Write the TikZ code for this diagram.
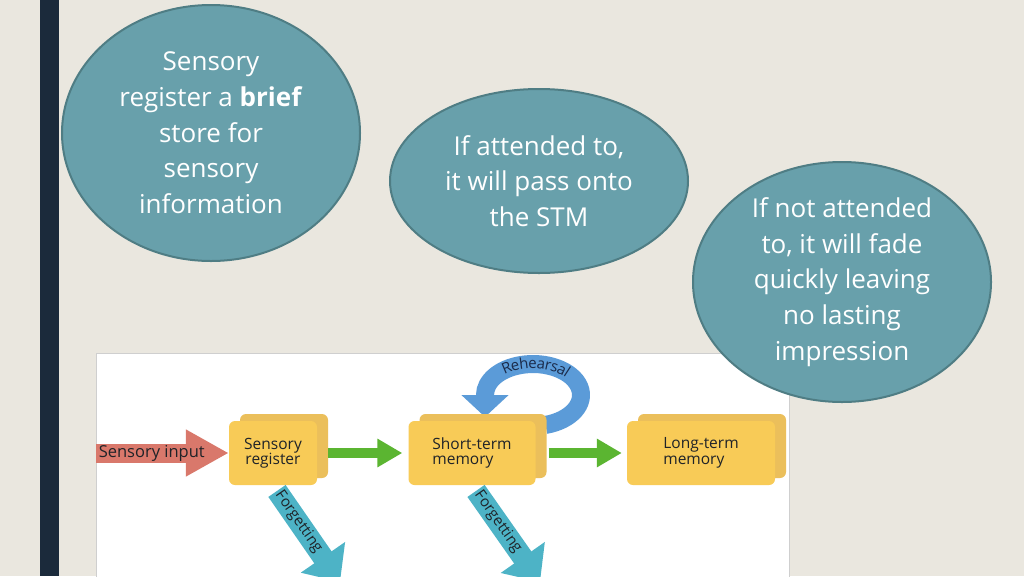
\documentclass[tikz,border=0pt]{standalone}
\usepackage{fontspec}
\setmainfont{Open Sans}
\usetikzlibrary{arrows.meta,shapes.geometric,shadows,decorations.text,calc}

\definecolor{slidebg}{HTML}{EAE7DF}
\definecolor{sidebar}{HTML}{1B2A3B}
\definecolor{bubblefill}{HTML}{68A0AB}
\definecolor{bubbleline}{HTML}{4F7D84}
\definecolor{panelline}{HTML}{CFCFCF}
\definecolor{boxfront}{HTML}{F8CB57}
\definecolor{boxback}{HTML}{EBBF5B}
\definecolor{inputred}{HTML}{D9786B}
\definecolor{passgreen}{HTML}{5BB531}
\definecolor{loopblue}{HTML}{5B9BD8}
\definecolor{forgetblue}{HTML}{4DB3C6}
\definecolor{labeltext}{HTML}{1F2328}
\definecolor{looptext}{HTML}{1B2B4A}

\begin{document}
\begin{tikzpicture}[x=1pt, y=-1pt,
    bubble/.style={ellipse, draw=bubbleline, line width=2pt, fill=bubblefill,
        text=white, align=center, inner sep=0pt,
        font=\fontsize{26}{35.7}\selectfont},
    memory/.style={rectangle, rounded corners=6pt, fill=boxfront, text=labeltext,
        minimum height=64pt, inner sep=0pt, font=\fontsize{15.5}{15.5}\selectfont,
        copy shadow={shadow xshift=11pt, shadow yshift=7pt, fill=boxback, draw=none}},
    input/.style={line width=19pt, inputred, -{Triangle[width=44pt,length=43pt]}},
    pass/.style={line width=10pt, passgreen, -{Triangle[width=27pt,length=25pt]}},
    rehearse/.style={line width=18pt, loopblue, -{Triangle[width=46pt,length=22pt]}},
    forget/.style={line width=21pt, forgetblue, -{Triangle[width=52pt,length=30pt]}}]

    \path[use as bounding box, fill=slidebg] (0,0) rectangle (1024,576);
    \fill[sidebar] (40,0) rectangle (59,576);

    \node[bubble, minimum width=298pt, minimum height=256pt] (reg) at (211,133)
        {Sensory\\register a \textbf{brief}\\store for\\sensory\\information};
    \node[bubble, minimum width=298pt, minimum height=184pt] (att) at (539,181)
        {If attended to,\\it will pass onto\\the STM};

    \node[draw=panelline, line width=1pt, fill=white, anchor=north west, inner sep=0pt,
        minimum width=693pt, minimum height=224pt] (panel) at (96,353) {};

    \coordinate (rc) at (533,395);
    \draw[rehearse] ($(rc)+(75:48 and 31)$) arc[start angle=75, end angle=-180, x radius=48, y radius=31] -- ++(0,22);
    \path[decorate, decoration={text along path, text align=center, raise=-4.5pt,
        text={|\fontsize{15}{15}\selectfont\color{looptext}|Rehearsal}}]
        ($(rc)+(-150:48 and 31)$) arc[start angle=-150, end angle=-20, x radius=48, y radius=31];

    \node[memory, minimum width=88pt, align=center] (sr) at (273,453) {Sensory\\register};
    \node[memory, minimum width=127pt, align=left] (stm) at (472,453) {Short-term\\memory};
    \node[memory, minimum width=148pt, align=left] (ltm) at (701,453) {Long-term\\memory};

    \coordinate (inl) at (96,453);
    \draw[input] (inl) -- (sr.west)
        node[pos=0.42, text=labeltext, font=\fontsize{16.5}{16.5}\selectfont] {Sensory input};

    \draw[pass, shorten <=11pt, shorten >=6pt] (sr.east) -- (stm.west);
    \draw[pass, shorten <=13pt, shorten >=5pt] (stm.east) -- (ltm.west);

    \begin{scope}
        \clip (panel.north west) rectangle (panel.south east);
        \coordinate (f1) at (340,582);
        \coordinate (f2) at (540,582);
        \draw[forget, shorten <=7pt] (sr.south) -- (f1)
            node[pos=0.38, sloped, text=labeltext, font=\fontsize{15}{15}\selectfont] {Forgetting};
        \draw[forget, shorten <=7pt] (stm.south) -- (f2)
            node[pos=0.38, sloped, text=labeltext, font=\fontsize{15}{15}\selectfont] {Forgetting};
    \end{scope}

    \node[bubble, minimum width=298pt, minimum height=240pt] (fade) at (842,282)
        {If not attended\\to, it will fade\\quickly leaving\\no lasting\\impression};
\end{tikzpicture}
\end{document}
